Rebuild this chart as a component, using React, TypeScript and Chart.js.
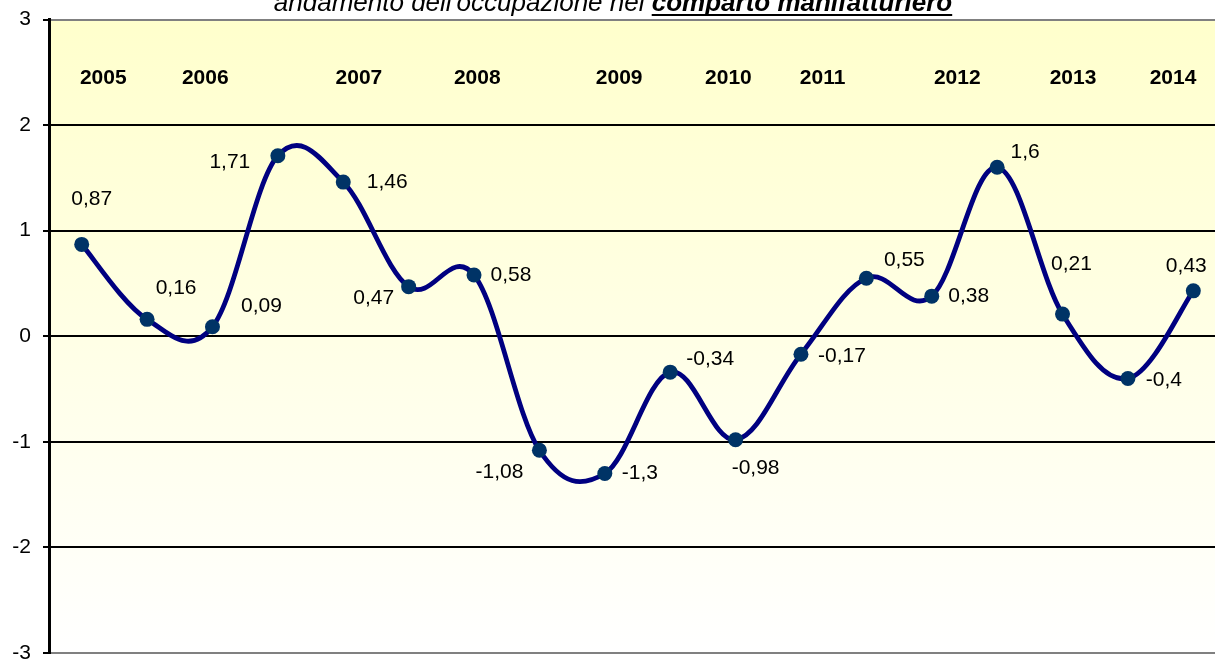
import React, { useEffect, useRef } from "react";
import { Chart, registerables } from "chart.js";

Chart.register(...registerables);

// ---- data ----
const periods = ["P1", "P2", "P3", "P4", "P5", "P6", "P7", "P8", "P9", "P10", "P11", "P12", "P13", "P14", "P15", "P16", "P17", "P18"];
const values = [0.87, 0.16, 0.09, 1.71, 1.46, 0.47, 0.58, -1.08, -1.3, -0.34, -0.98, -0.17, 0.55, 0.38, 1.6, 0.21, -0.4, 0.43];
const yearLabels = ["2005", "2006", "2007", "2008", "2009", "2010", "2011", "2012", "2013", "2014"];
const yearIndexPos = [0.33, 1.89, 4.24, 6.05, 8.22, 9.89, 11.33, 13.39, 15.16, 16.69];
const yearValuePos = 2.445;
const yTicks = [-3, -2, -1, 0, 1, 2, 3];

// label offsets (px) relative to each point
const labelOffsets: [number, number][] = [
  [10, -45], [29, -31], [49, -21], [-48, 7], [44, 0], [-35, 12], [37, 0], [-40, 22], [35, 0],
  [40, -13], [20, 28], [41, 2], [38, -18], [37, 0], [28, -15], [9, -50], [36, 2], [-7, -25],
];

const titleNormal = "andamento dell'occupazione nel ";
const titleBold = "comparto manifatturiero";

const FONT = "Arial, 'Liberation Sans', sans-serif";
const SMOOTH = 0.18; // uniform Catmull-Rom style smoothing factor (Excel-like)

const fmt = (v: number) => String(v).replace(".", ",");

const bgPlugin = {
  id: "bgPlugin",
  beforeDraw(chart: any) {
    const { ctx, chartArea } = chart;
    const g = ctx.createLinearGradient(0, chartArea.top, 0, chartArea.bottom);
    g.addColorStop(0, "#FFFFCC");
    g.addColorStop(1, "#FFFFFF");
    ctx.save();
    ctx.fillStyle = g;
    ctx.fillRect(chartArea.left, chartArea.top, chartArea.right - chartArea.left, chartArea.bottom - chartArea.top);
    ctx.restore();
  },
};

// Excel-style smoothing: uniform tangents instead of distance-weighted ones
const smoothPlugin = {
  id: "smoothPlugin",
  beforeDatasetsDraw(chart: any) {
    const meta = chart.getDatasetMeta(0);
    const line = meta.dataset;
    if (!line) return;
    line.updateControlPoints(chart.chartArea, "x");
    const pts = meta.data;
    const n = pts.length;
    for (let i = 0; i < n; i++) {
      const p = pts[i];
      const prev = pts[Math.max(0, i - 1)];
      const next = pts[Math.min(n - 1, i + 1)];
      const dx = (next.x - prev.x) * SMOOTH;
      const dy = (next.y - prev.y) * SMOOTH;
      p.cp1x = p.x - dx;
      p.cp1y = p.y - dy;
      p.cp2x = p.x + dx;
      p.cp2y = p.y + dy;
    }
    line._path = undefined;
  },
};

const textPlugin = {
  id: "textPlugin",
  afterDraw(chart: any) {
    const { ctx } = chart;
    const xs = chart.scales.x;
    const ys = chart.scales.y;
    ctx.save();
    // year labels
    ctx.fillStyle = "#000";
    ctx.font = `bold 21px ${FONT}`;
    ctx.textAlign = "center";
    ctx.textBaseline = "middle";
    yearLabels.forEach((lab, i) => {
      ctx.fillText(lab, xs.getPixelForValue(yearIndexPos[i]), ys.getPixelForValue(yearValuePos));
    });
    // data labels
    ctx.font = `21px ${FONT}`;
    const meta = chart.getDatasetMeta(0);
    meta.data.forEach((pt: any, i: number) => {
      const [dx, dy] = labelOffsets[i];
      ctx.fillText(fmt(values[i]), pt.x + dx, pt.y + dy);
    });
    // title
    ctx.textAlign = "left";
    ctx.textBaseline = "alphabetic";
    ctx.font = `italic 26px ${FONT}`;
    const w1 = ctx.measureText(titleNormal).width;
    ctx.font = `italic bold 26px ${FONT}`;
    const w2 = ctx.measureText(titleBold).width;
    const cx = 613;
    const x0 = cx - (w1 + w2) / 2;
    const by = 11;
    ctx.font = `italic 26px ${FONT}`;
    ctx.fillText(titleNormal, x0, by);
    ctx.font = `italic bold 26px ${FONT}`;
    ctx.fillText(titleBold, x0 + w1, by);
    ctx.fillRect(x0 + w1, by + 3, w2, 2);
    ctx.restore();
  },
};

export default function App() {
  const ref = useRef<HTMLCanvasElement>(null);
  useEffect(() => {
    document.body.style.margin = "0";
    document.body.style.background = "#fff";
    const chart = new Chart(ref.current!, {
      type: "line",
      data: {
        labels: periods,
        datasets: [
          {
            data: values,
            borderColor: "#000080",
            borderWidth: 4.8,
            tension: 0.4,
            pointRadius: 7.5,
            pointHoverRadius: 7.5,
            pointBackgroundColor: "#003366",
            pointBorderColor: "#003366",
            pointBorderWidth: 0,
            fill: false,
            clip: false as any,
          },
        ],
      },
      options: {
        responsive: false,
        animation: false,
        devicePixelRatio: 1,
        layout: { autoPadding: false, padding: { top: 19.5, bottom: 9, left: 0, right: 0 } },
        plugins: { legend: { display: false }, tooltip: { enabled: false }, title: { display: false } },
        scales: {
          x: {
            type: "category",
            offset: true,
            display: false,
            grid: { display: false },
          },
          y: {
            min: -3,
            max: 3,
            afterBuildTicks: (s: any) => {
              s.ticks = yTicks.map((v) => ({ value: v }));
            },
            afterFit: (s: any) => {
              s.width = 49;
              s.paddingTop = 0;
              s.paddingBottom = 0;
            },
            ticks: {
              color: "#000",
              font: { family: FONT, size: 21 },
              padding: 12,
              callback: (v: any) => String(v),
            },
            grid: {
              color: (c: any) => (c.tick && Math.abs(c.tick.value) === 3 ? "#808080" : "#000"),
              lineWidth: 2,
              tickLength: 6,
              tickColor: "#000",
              tickWidth: 2,
            },
            border: { display: true, color: "#000", width: 3 },
          },
        },
      },
      plugins: [bgPlugin, smoothPlugin, textPlugin],
    });
    return () => chart.destroy();
  }, []);
  return (
    <div style={{ width: 1215, height: 662, overflow: "hidden", background: "#fff" }}>
      <canvas ref={ref} width={1226} height={662} style={{ display: "block" }} />
    </div>
  );
}
